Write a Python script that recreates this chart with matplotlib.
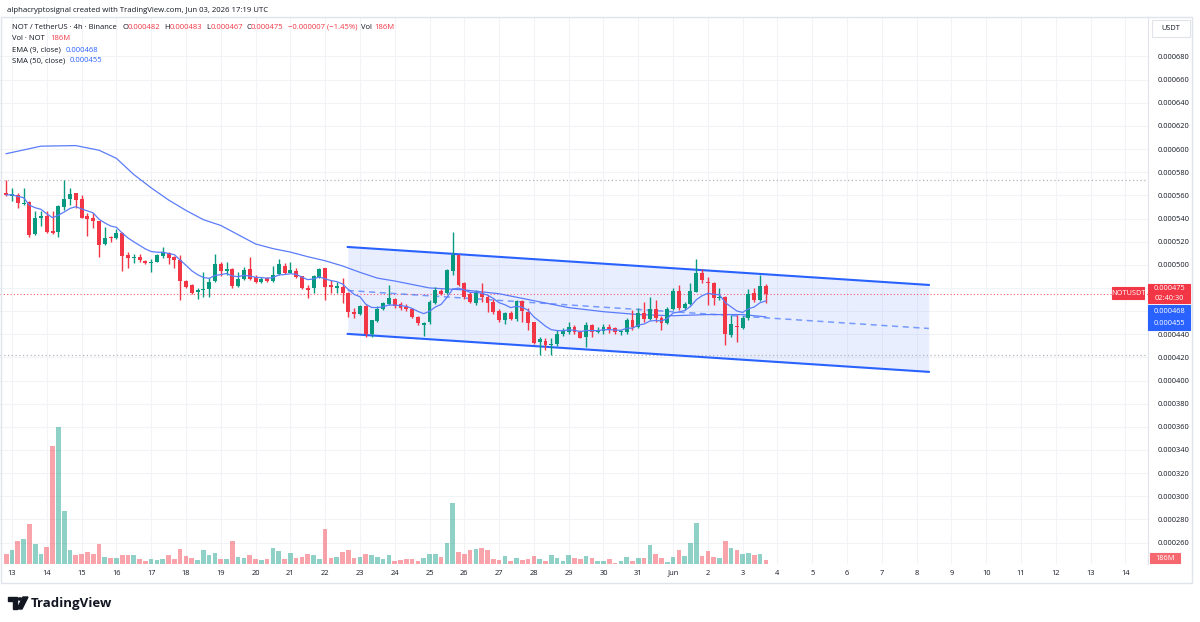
import numpy as np
import pandas as pd
import matplotlib
matplotlib.use('Agg')
import matplotlib.pyplot as plt
from matplotlib.patches import Rectangle, Polygon, Circle

plt.rcParams['font.family'] = ['Open Sans', 'DejaVu Sans']

# NOT/USDT 4h candles, prices in millionths of USDT, first candle = 12 May 20:00
opens = [562.3, 559.2, 560.4, 552.3, 554.6, 526.4, 540.7, 542.5, 529.5, 528.1,
         550.2, 556.6, 561.8, 556.6, 541.9, 540.2, 537.5, 518.3, 524.0, 522.9,
         527.8, 508.2, 506.2, 506.5, 503.6, 501.3, 502.5, 507.6, 510.2, 506.5,
         504.2, 486.0, 482.6, 476.3, 478.3, 479.1, 486.0, 500.5, 494.7, 496.4,
         481.7, 487.5, 496.4, 489.2, 484.9, 488.4, 486.0, 491.8, 499.3, 493.0,
         494.7, 490.4, 480.3, 479.7, 489.2, 497.0, 482.6, 480.3, 481.1, 475.4,
         459.5, 457.3, 464.4, 439.8, 451.6, 461.9, 466.5, 470.2, 465.9, 463.9,
         461.6, 455.2, 448.0, 450.4, 467.1, 477.7, 475.4, 495.0, 508.5, 484.0,
         474.4, 467.1, 476.0, 472.0, 468.2, 460.4, 452.4, 458.6, 452.9, 468.8,
         459.5, 450.4, 433.5, 434.0, 430.3, 432.0, 440.0, 442.2, 446.6, 442.8,
         437.6, 448.3, 442.2, 443.0, 446.6, 445.5, 441.9, 442.0, 452.0, 446.0,
         458.0, 453.0, 461.6, 453.8, 450.0, 461.6, 477.7, 462.5, 465.9, 476.8,
         493.2, 485.4, 484.6, 471.1, 472.0, 439.4, 447.2, 445.2, 453.8, 475.4,
         469.6, 482.0]
highs = [573.3, 566.7, 561.8, 566.3, 555.2, 546.5, 546.5, 546.5, 546.5, 551.7,
         573.3, 566.1, 562.1, 560.4, 544.5, 544.5, 538.1, 532.9, 524.5, 530.7,
         528.1, 511.4, 509.4, 509.4, 504.2, 505.0, 509.4, 515.7, 510.8, 507.6,
         508.2, 486.9, 483.5, 479.7, 494.1, 488.4, 509.4, 502.7, 502.7, 497.3,
         494.1, 498.4, 507.0, 491.2, 489.5, 489.8, 499.3, 504.8, 501.3, 502.7,
         497.0, 490.6, 482.6, 491.2, 497.0, 497.3, 486.9, 485.4, 488.4, 476.8,
         462.4, 465.3, 465.3, 452.4, 464.1, 468.2, 482.6, 471.1, 468.2, 465.9,
         462.4, 455.8, 451.0, 469.6, 481.1, 478.9, 496.1, 528.4, 509.4, 485.4,
         476.8, 478.3, 484.6, 474.0, 470.5, 462.1, 459.5, 460.1, 469.6, 469.6,
         462.4, 451.0, 437.6, 436.4, 436.4, 443.5, 445.8, 451.0, 447.6, 443.5,
         451.0, 449.2, 446.4, 448.9, 448.9, 446.4, 443.5, 454.0, 461.0, 463.0,
         468.0, 472.5, 469.6, 455.8, 463.8, 479.7, 482.6, 467.9, 484.1, 504.8,
         496.2, 489.8, 485.2, 479.7, 473.1, 456.7, 456.7, 455.8, 478.9, 479.7,
         491.5, 483.0]
lows = [559.5, 555.2, 549.4, 551.5, 524.3, 525.8, 533.8, 527.5, 527.0, 524.3,
        547.6, 551.7, 549.0, 540.2, 525.0, 531.6, 507.0, 517.4, 519.5, 522.0,
        494.4, 497.1, 501.3, 502.2, 500.5, 493.5, 502.0, 505.9, 500.8, 496.9,
        469.6, 479.7, 475.0, 470.5, 472.5, 472.5, 485.4, 490.6, 491.2, 479.7,
        481.1, 486.9, 486.9, 484.1, 484.3, 485.4, 485.4, 491.2, 491.8, 492.7,
        488.9, 479.2, 471.1, 475.4, 488.4, 469.6, 475.4, 475.4, 466.8, 455.2,
        453.8, 456.7, 437.6, 437.9, 450.7, 461.0, 465.3, 462.4, 461.0, 460.1,
        453.8, 448.0, 438.7, 449.2, 466.5, 474.0, 474.5, 491.2, 482.0, 470.2,
        466.8, 465.3, 468.2, 459.5, 457.8, 451.0, 449.2, 452.4, 451.3, 451.0,
        443.5, 431.2, 422.5, 426.5, 422.5, 429.5, 438.1, 439.8, 439.8, 436.4,
        429.3, 437.6, 440.7, 439.8, 441.3, 439.8, 439.0, 440.5, 444.0, 445.0,
        451.0, 452.4, 450.9, 443.7, 448.9, 461.0, 461.0, 461.0, 465.3, 476.1,
        484.1, 465.3, 465.3, 469.6, 430.8, 437.9, 433.6, 444.6, 452.4, 468.2,
        469.0, 467.0]
closes = [560.4, 561.2, 553.2, 553.7, 525.8, 540.2, 542.5, 528.1, 527.8, 551.1,
          556.9, 561.2, 556.0, 540.7, 539.6, 538.1, 517.4, 523.4, 522.9, 527.8,
          507.6, 506.2, 506.8, 504.5, 501.3, 502.5, 508.5, 510.8, 505.6, 504.5,
          486.0, 481.1, 475.8, 478.3, 479.1, 485.4, 500.5, 494.7, 496.2, 481.7,
          487.5, 495.6, 487.8, 484.9, 487.8, 486.3, 491.2, 500.5, 492.7, 495.3,
          489.8, 479.7, 478.3, 490.4, 496.4, 481.1, 480.6, 481.7, 475.4, 459.5,
          457.5, 464.4, 440.4, 451.9, 462.1, 466.8, 471.7, 464.4, 463.0, 461.6,
          455.2, 449.5, 450.1, 467.7, 478.6, 474.9, 495.6, 508.5, 482.6, 472.0,
          467.7, 476.8, 472.0, 467.4, 459.5, 452.4, 458.6, 452.9, 468.8, 460.4,
          449.5, 432.6, 435.5, 430.3, 432.0, 440.0, 442.8, 446.6, 442.2, 437.0,
          448.0, 442.2, 443.3, 446.6, 444.6, 441.9, 442.8, 452.0, 446.0, 458.0,
          453.0, 461.6, 453.8, 450.0, 461.6, 477.7, 462.5, 465.9, 477.7, 493.2,
          486.9, 484.0, 471.1, 472.5, 440.3, 448.9, 445.9, 453.8, 474.8, 469.6,
          482.0, 475.0]
# volume in millions of NOT
volumes = [430, 590, 1000, 1075, 1735, 875, 445, 745, 5060, 5880,
           2280, 590, 375, 445, 505, 415, 875, 315, 245, 245,
           375, 375, 400, 230, 115, 215, 160, 230, 375, 200,
           660, 345, 260, 185, 590, 375, 475, 230, 230, 990,
           315, 260, 375, 200, 160, 200, 700, 560, 230, 475,
           260, 315, 415, 375, 230, 1490, 260, 290, 515, 615,
           260, 290, 445, 375, 290, 230, 375, 140, 170, 200,
           230, 140, 260, 415, 445, 315, 905, 2610, 530, 445,
           615, 645, 675, 615, 215, 170, 330, 140, 260, 185,
           215, 330, 215, 140, 385, 245, 115, 385, 270, 215,
           330, 245, 115, 140, 215, 55, 140, 300, 140, 270,
           245, 830, 415, 270, 100, 300, 600, 355, 915, 1765,
           355, 560, 300, 270, 990, 675, 590, 445, 485, 385,
           430, 186]

# SMA(50) at candle indices (0 = 13 May 00:00)
sma_idx = [-1, 5, 11, 15, 18, 21, 24, 27, 30, 33, 36, 39, 42, 45, 48, 51, 54,
           57, 60, 63, 66, 69, 72, 78, 84, 90, 96, 102, 108, 114, 120, 126, 130]
sma_vals = [596, 602.5, 603, 599, 592, 578, 566.5, 556, 547, 539, 534, 526, 518,
            514, 511, 507, 503.5, 499, 493.5, 488.5, 486, 483, 480, 478.3, 475,
            469, 463, 459.5, 457, 456, 457, 457, 455]

# drawn parallel channel (start/end candle index, prices)
chan_x = [57.9, 158.1]
chan_top = [515.4, 482.6]
chan_mid = [477.8, 445.0]
chan_bot = [440.3, 407.5]

day_labels = [str(d) for d in range(13, 32)] + ['Jun'] + [str(d) for d in range(2, 15)]
price_ticks = np.arange(260, 681, 20)

GREEN = '#089981'
RED = '#f23645'
BLUE = '#2962ff'
TXT = '#131722'

W, H = 1200, 622
fig = plt.figure(figsize=(12, 6.22), dpi=100)
fig.patch.set_facecolor('white')


def fx(x):
    return x / W


def fy(y):
    return 1 - y / H


ax = fig.add_axes([0, fy(564), fx(1148), (564 - 17) / H])
axv = ax.twinx()

u = 1e-6
idx = np.arange(-1, len(opens) - 1)
o = np.array(opens) * u
h = np.array(highs) * u
l = np.array(lows) * u
c = np.array(closes) * u
col = np.where(c >= o, GREEN, RED)

# grid
for t in price_ticks:
    ax.axhline(t * u, color='#f2f3f7', lw=0.8, zorder=0)
for d in range(len(day_labels)):
    ax.axvline(6 * d, color='#f2f3f7', lw=0.8, zorder=0)

# channel
ax.fill_between(chan_x, np.array(chan_bot) * u, np.array(chan_top) * u,
                color=BLUE, alpha=0.1, lw=0, zorder=1)
ax.plot(chan_x, np.array(chan_top) * u, color=BLUE, lw=1.5, zorder=2)
ax.plot(chan_x, np.array(chan_bot) * u, color=BLUE, lw=1.5, zorder=2)
ax.plot(chan_x, np.array(chan_mid) * u, color=BLUE, lw=1.1, alpha=0.6,
        ls=(0, (4, 3)), zorder=2)

# range / price lines
ax.axhline(573.3 * u, color='#b2b5be', lw=0.9, ls=(0, (1, 2)), zorder=1)
ax.axhline(422.1 * u, color='#b2b5be', lw=0.9, ls=(0, (1, 2)), zorder=1)
ax.axhline(475.0 * u, color=RED, lw=0.8, ls=(0, (1, 2)), alpha=0.8, zorder=1)

# moving averages
ema = pd.Series(c).ewm(span=9, adjust=False).mean()
ax.plot(idx, ema, color='#5b7cfa', lw=0.9, zorder=5)
ax.plot(sma_idx, np.array(sma_vals) * u, color='#5b7cfa', lw=0.9, zorder=2)

# candles
ax.vlines(idx, l, h, colors=col, lw=1, zorder=3)
body_lo = np.minimum(o, c)
body_h = np.maximum(np.abs(c - o), 0.9 * u)
ax.bar(idx, body_h, bottom=body_lo, width=0.68, color=col, lw=0, zorder=4)

# volume overlay
axv.bar(idx, volumes, width=0.8, color=col, alpha=0.45, lw=0)
axv.set_ylim(0, 23500)
axv.set_axis_off()

ax.set_xlim(-2.07, 195.9)
ax.set_ylim(241.5 * u, 714.1 * u)
ax.set_xticks(6 * np.arange(len(day_labels)))
ax.set_xticklabels(day_labels)
ax.yaxis.tick_right()
# 0.000460 sits fully under the indicator value labels, as on the original
shown = [t for t in price_ticks if t != 460]
ax.set_yticks(np.array(shown) * u)
ax.set_yticklabels(['%.6f' % (t * u) for t in shown])
ax.tick_params(axis='both', length=0, labelsize=5.4, colors=TXT)
ax.tick_params(axis='x', pad=4)
ax.tick_params(axis='y', pad=7)
for s in ['top', 'left', 'bottom']:
    ax.spines[s].set_visible(False)
ax.spines['right'].set_color('#e0e3eb')
ax.set_facecolor('white')

# frame
fig.patches.append(Rectangle((fx(0.5), fy(583)), fx(1191.5), (583 - 17) / H,
                             transform=fig.transFigure, fill=False,
                             edgecolor='#e0e3eb', lw=1))

# header text
fs = 5.5
fig.text(fx(7), fy(10), 'alphacryptosignal created with TradingView.com, Jun 03, 2026 17:19 UTC',
         fontsize=5.6, color=TXT, va='center')
legend1 = [(12, 'NOT / TetherUS · 4h · Binance', TXT), (122.5, 'O', TXT),
           (127.5, '0.000482', RED), (164.5, 'H', TXT), (169.5, '0.000483', RED),
           (206.5, 'L', TXT), (211, '0.000467', RED), (246.5, 'C', TXT),
           (251, '0.000475', RED), (287.5, '\u22120.000007 (\u22121.45%)', RED),
           (361, 'Vol', TXT), (374, '186M', RED)]
for x, s, cc in legend1:
    fig.text(fx(x), fy(27.5), s, fontsize=fs, color=cc, va='center')
fig.text(fx(12), fy(38.5), 'Vol · NOT', fontsize=fs, color=TXT, va='center')
fig.text(fx(50), fy(38.5), '186M', fontsize=fs, color=RED, va='center')
fig.text(fx(12), fy(50), 'EMA (9, close)', fontsize=fs, color=TXT, va='center')
fig.text(fx(66), fy(50), '0.000468', fontsize=fs, color=BLUE, va='center')
fig.text(fx(12), fy(61), 'SMA (50, close)', fontsize=fs, color=TXT, va='center')
fig.text(fx(69.5), fy(61), '0.000455', fontsize=fs, color=BLUE, va='center')

# right-side labels


def box(x0, y0, x1, y1, fc, ec=None):
    fig.patches.append(Rectangle((fx(x0), fy(y1)), fx(x1 - x0), (y1 - y0) / H,
                                 transform=fig.transFigure, facecolor=fc,
                                 edgecolor=ec if ec else fc, lw=0.8, zorder=5))


lf = 5.3
box(1152, 20, 1190, 37, 'white', '#e0e3eb')
fig.text(fx(1171), fy(28.5), 'USDT', fontsize=lf, color=TXT, ha='center', va='center', zorder=6)
box(1112, 287, 1144, 299, RED)
fig.text(fx(1128), fy(293), 'NOTUSDT', fontsize=lf, color='white', ha='center', va='center', zorder=6)
box(1148, 284, 1190, 303, RED)
fig.text(fx(1169), fy(289), '0.000475', fontsize=lf, color='white', ha='center', va='center', zorder=6)
fig.text(fx(1169), fy(298), '02:40:30', fontsize=lf, color='white', ha='center', va='center', zorder=6)
box(1148, 305, 1190, 330, BLUE)
fig.text(fx(1169), fy(311.5), '0.000468', fontsize=lf, color='white', ha='center', va='center', zorder=6)
fig.text(fx(1169), fy(323.5), '0.000455', fontsize=lf, color='white', ha='center', va='center', zorder=6)
box(1150, 553, 1180, 563, '#f5686f')
fig.text(fx(1165), fy(558), '186M', fontsize=lf, color='white', ha='center', va='center', zorder=6)


# TradingView logo
def pts(p):
    return [(fx(a), fy(b)) for a, b in p]


fig.patches.append(Polygon(pts([(8, 597), (17, 597), (17, 609), (13, 609), (13, 601), (8, 601)]),
                           closed=True, transform=fig.transFigure, color=TXT))
fig.patches.append(Circle((fx(20), fy(599)), 2.1 / W, transform=fig.transFigure, color=TXT))
fig.patches.append(Polygon(pts([(23, 597), (28, 597), (22, 609), (17, 609)]),
                           closed=True, transform=fig.transFigure, color=TXT))
fig.text(fx(31), fy(603), 'TradingView', fontsize=9.5, fontweight='bold', color=TXT, va='center')

fig.savefig('out.png', dpi=100)
